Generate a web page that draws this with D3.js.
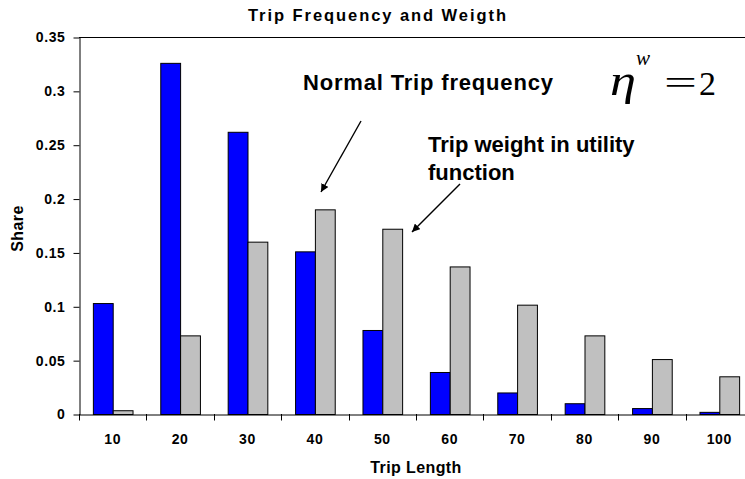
<!DOCTYPE html>
<html>
<head>
<meta charset="utf-8">
<script src="https://cdn.jsdelivr.net/npm/d3@7/dist/d3.min.js"></script>
<style>
  html, body { margin: 0; padding: 0; background: #fff; }
  svg { display: block; font-family: "Liberation Sans", Arial, sans-serif; }
</style>
</head>
<body>
<svg id="chart" width="745" height="479"></svg>
<script>
// ---- data ----
const categories = ["10", "20", "30", "40", "50", "60", "70", "80", "90", "100"];
const seriesNames = ["Normal Trip frequency", "Trip weight in utility function"];
const tripFrequency = [0.103, 0.326, 0.262, 0.151, 0.078, 0.039, 0.020, 0.010, 0.0055, 0.002];
const tripWeight = [0.0035, 0.073, 0.160, 0.190, 0.172, 0.137, 0.1015, 0.073, 0.051, 0.035];
const yTicks = [0, 0.05, 0.1, 0.15, 0.2, 0.25, 0.3, 0.35];
const titleText = "Trip Frequency and Weigth";
const xTitle = "Trip Length";
const yTitle = "Share";

// ---- layout ----
const W = 745, H = 479;
const plot = { left: 79, top: 37, right: 753, bottom: 414 };
const colors = ["#0000FF", "#C0C0C0"];

const svg = d3.select("#chart");

const x = d3.scaleBand().domain(categories).range([plot.left, plot.right]).paddingInner(0).paddingOuter(0);
const inner = d3.scaleBand().domain([0, 1]).range([0, x.bandwidth()]).paddingInner(0).paddingOuter(0.7);
const y = d3.scaleLinear().domain([0, 0.35]).range([plot.bottom, plot.top]);

const rows = categories.map((c, i) => ({ c, vals: [tripFrequency[i], tripWeight[i]] }));

// top border of plot area
svg.append("line")
  .attr("x1", plot.left).attr("x2", plot.right)
  .attr("y1", plot.top + 0.5).attr("y2", plot.top + 0.5)
  .attr("stroke", "#000").attr("stroke-width", 1);

// bars
const g = svg.append("g");
g.selectAll("g.cat").data(rows).join("g")
  .attr("class", "cat")
  .attr("transform", d => `translate(${x(d.c)},0)`)
  .selectAll("rect").data(d => d.vals.map((v, k) => ({ v, k }))).join("rect")
  .attr("x", d => inner(d.k) + 0.5)
  .attr("width", inner.bandwidth())
  .attr("y", d => y(d.v) + 0.5)
  .attr("height", d => y(0) - y(d.v))
  .attr("fill", d => colors[d.k])
  .attr("stroke", "#000")
  .attr("stroke-width", 1);

// y axis
const fmt = d => d === 0 ? "0" : String(+d.toFixed(2));
const yAxis = svg.append("g")
  .attr("transform", `translate(${plot.left + 0.5},0.5)`)
  .call(d3.axisLeft(y).tickValues(yTicks).tickFormat(fmt).tickSize(6).tickSizeOuter(0).tickPadding(8));
yAxis.selectAll("text").attr("font-size", 14).attr("font-weight", "bold").attr("fill", "#000")
  .attr("font-family", "Liberation Sans, Arial, sans-serif").attr("letter-spacing", 0.6);
yAxis.selectAll("line, path").attr("stroke", "#000");

// x axis
const xAxis = svg.append("g")
  .attr("transform", `translate(0,${plot.bottom + 0.5})`)
  .call(d3.axisBottom(x).tickSize(0).tickSizeOuter(0).tickPadding(20));
xAxis.select(".domain").attr("stroke", "#000");
xAxis.selectAll("text").attr("font-size", 14).attr("font-weight", "bold").attr("fill", "#000")
  .attr("font-family", "Liberation Sans, Arial, sans-serif").attr("letter-spacing", 0.6);
const boundaries = categories.map(c => x(c)).concat([x.range()[1]]);
svg.append("g").selectAll("line").data(boundaries).join("line")
  .attr("x1", d => Math.round(d) + 0.5).attr("x2", d => Math.round(d) + 0.5)
  .attr("y1", plot.bottom).attr("y2", plot.bottom + 6.5)
  .attr("stroke", "#000");

// titles
svg.append("text")
  .attr("x", 377).attr("y", 21)
  .attr("text-anchor", "middle")
  .attr("font-size", 16.5).attr("font-weight", "bold")
  .attr("textLength", 258).attr("lengthAdjust", "spacing")
  .text(titleText);

svg.append("text")
  .attr("x", (plot.left + plot.right) / 2).attr("y", 473)
  .attr("text-anchor", "middle")
  .attr("font-size", 16).attr("font-weight", "bold")
  .attr("letter-spacing", 0.4)
  .text(xTitle);

svg.append("text")
  .attr("transform", "translate(23,228.5) rotate(-90)")
  .attr("text-anchor", "middle")
  .attr("font-size", 16).attr("font-weight", "bold")
  .attr("letter-spacing", 0.4)
  .text(yTitle);

// annotations
svg.append("text")
  .attr("x", 303).attr("y", 90)
  .attr("font-size", 22).attr("font-weight", "bold")
  .attr("textLength", 250).attr("lengthAdjust", "spacing")
  .text(seriesNames[0]);

const ann2 = svg.append("text")
  .attr("font-size", 22).attr("font-weight", "bold");
ann2.append("tspan").attr("x", 428).attr("y", 151.5).text("Trip weight in utility");
ann2.append("tspan").attr("x", 428).attr("y", 180).text("function");

// eta^w = 2
const serif = "Liberation Serif, 'Times New Roman', serif";
svg.append("text").attr("x", 610).attr("y", 95)
  .attr("font-family", serif).attr("font-style", "italic").attr("font-size", 44)
  .attr("textLength", 26).attr("lengthAdjust", "spacingAndGlyphs")
  .text("η");
svg.append("text").attr("x", 636).attr("y", 65)
  .attr("font-family", serif).attr("font-style", "italic").attr("font-size", 21)
  .text("w");
svg.append("text").attr("x", 664).attr("y", 94)
  .attr("font-family", serif).attr("font-size", 34)
  .attr("textLength", 33).attr("lengthAdjust", "spacingAndGlyphs")
  .text("=");
svg.append("text").attr("x", 699).attr("y", 95)
  .attr("font-family", serif).attr("font-size", 34)
  .text("2");

// arrows
const defs = svg.append("defs");
defs.append("marker")
  .attr("id", "arrow").attr("viewBox", "0 0 10 10")
  .attr("refX", 10).attr("refY", 5)
  .attr("markerWidth", 8).attr("markerHeight", 8)
  .attr("markerUnits", "userSpaceOnUse")
  .attr("orient", "auto")
  .append("path").attr("d", "M0,0 L10,5 L0,10 Z").attr("fill", "#000");

const arrows = [
  { x1: 361, y1: 121, x2: 321, y2: 192 },
  { x1: 460, y1: 184, x2: 412, y2: 232 }
];
svg.append("g").selectAll("line").data(arrows).join("line")
  .attr("x1", d => d.x1).attr("y1", d => d.y1)
  .attr("x2", d => d.x2).attr("y2", d => d.y2)
  .attr("stroke", "#000").attr("stroke-width", 1.4)
  .attr("marker-end", "url(#arrow)");
</script>
</body>
</html>
